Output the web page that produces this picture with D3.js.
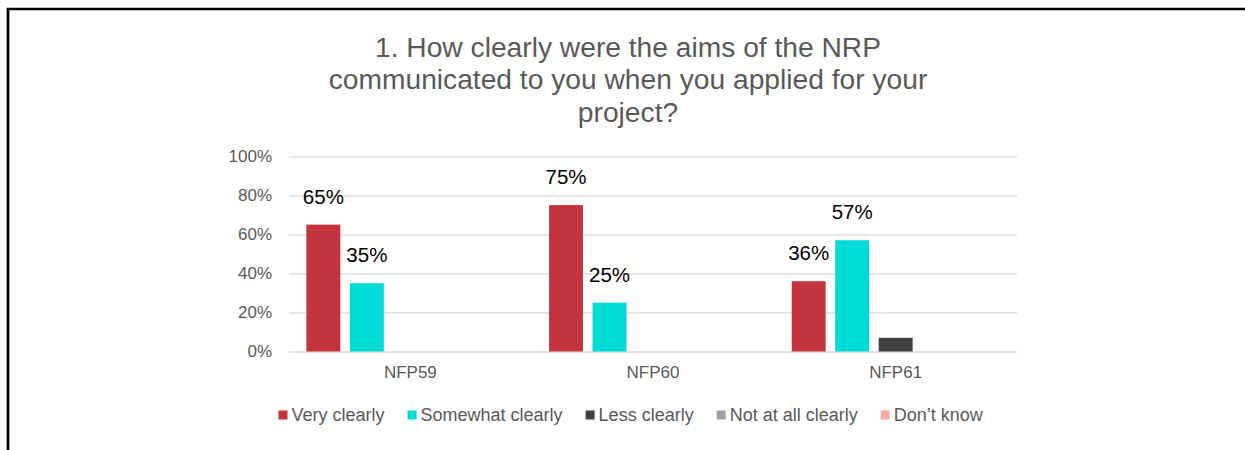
<!DOCTYPE html>
<html>
<head>
<meta charset="utf-8">
<script src="https://cdn.jsdelivr.net/npm/d3@7"></script>
<style>
  html, body { margin: 0; padding: 0; background: #fff; }
  svg { display: block; font-family: "Liberation Sans", Arial, sans-serif; }
</style>
</head>
<body>
<svg id="chart" width="1245" height="450"></svg>
<script>
// Survey results by programme (percent of respondents)
const categories = ["NFP59", "NFP60", "NFP61"];
const seriesNames = ["Very clearly", "Somewhat clearly", "Less clearly", "Not at all clearly", "Don\u2019t know"];
const veryClearly = [65, 75, 36];
const somewhatClearly = [35, 25, 57];
const lessClearly = [0, 0, 7];
const notAtAllClearly = [0, 0, 0];
const dontKnow = [0, 0, 0];
const yTicks = [0, 20, 40, 60, 80, 100];
const titleLines = ["1. How clearly were the aims of the NRP", "communicated to you when you applied for your", "project?"];
const seriesColors = ["#C3343F", "#00DCD5", "#404040", "#A0A0A0", "#FBAAAA"];
const labelledSeries = ["Very clearly", "Somewhat clearly"];

const seriesValues = [veryClearly, somewhatClearly, lessClearly, notAtAllClearly, dontKnow];

const svg = d3.select("#chart");

// Frame lines along the top and left edges
svg.append("path")
  .attr("d", "M8,450V9H1245")
  .attr("fill", "none")
  .attr("stroke", "#000")
  .attr("stroke-width", 2.7);

// Title
svg.append("text")
  .attr("text-anchor", "middle")
  .attr("fill", "#595959")
  .attr("font-size", 28.2)
  .selectAll("tspan")
  .data(titleLines)
  .join("tspan")
  .attr("x", 628)
  .attr("y", (d, i) => 56.5 + i * 32.7)
  .text(d => d);

// Scales
const x0 = d3.scaleBand().domain(categories).range([289, 1017]).padding(0);
const x1 = d3.scaleBand().domain(seriesNames).range([0, x0.bandwidth()])
  .paddingInner(0.22).paddingOuter(0.4);
const y = d3.scaleLinear().domain([0, 100]).range([351.5, 156.3]);
const color = d3.scaleOrdinal().domain(seriesNames).range(seriesColors);

// Gridlines + y axis labels
const yAxis = d3.axisLeft(y)
  .tickValues(yTicks)
  .tickFormat(d => d + "%")
  .tickSize(-(1017 - 289))
  .tickPadding(17);
const gy = svg.append("g").attr("transform", "translate(289,0)").call(yAxis);
gy.select(".domain").remove();
gy.selectAll(".tick line").attr("stroke", "#D9D9D9").attr("stroke-width", 1.3);
gy.selectAll(".tick text")
  .attr("fill", "#595959")
  .attr("font-size", 17)
  .attr("font-family", "Liberation Sans, Arial, sans-serif");

// Category axis labels
const xAxis = d3.axisBottom(x0).tickSize(0).tickPadding(14);
const gx = svg.append("g").attr("transform", "translate(0,351.5)").call(xAxis);
gx.select(".domain").remove();
gx.selectAll(".tick text")
  .attr("fill", "#595959")
  .attr("font-size", 17)
  .attr("font-family", "Liberation Sans, Arial, sans-serif");

// Grouped bars
const rows = categories.map((c, ci) => ({
  category: c,
  values: seriesNames.map((s, si) => ({ series: s, value: seriesValues[si][ci] }))
}));

const groups = svg.append("g").selectAll("g")
  .data(rows)
  .join("g")
  .attr("transform", d => `translate(${x0(d.category)},0)`);

groups.selectAll("rect")
  .data(d => d.values.filter(v => v.value > 0))
  .join("rect")
  .attr("x", d => x1(d.series))
  .attr("y", d => y(d.value))
  .attr("width", x1.bandwidth())
  .attr("height", d => y(0) - y(d.value))
  .attr("fill", d => color(d.series));

// Value labels
groups.selectAll("text.value")
  .data(d => d.values.filter(v => v.value > 0 && labelledSeries.includes(v.series)))
  .join("text")
  .attr("class", "value")
  .attr("x", d => x1(d.series) + x1.bandwidth() / 2)
  .attr("y", d => y(d.value) - 21)
  .attr("text-anchor", "middle")
  .attr("fill", "#000")
  .attr("font-size", 20.5)
  .text(d => d.value + "%");

// Legend
const legend = svg.append("g");
let lx = 278.5;
seriesNames.forEach((s, i) => {
  const item = legend.append("g");
  item.append("rect")
    .attr("x", lx).attr("y", 410.5)
    .attr("width", 9).attr("height", 9)
    .attr("fill", color(s));
  const t = item.append("text")
    .attr("x", lx + 13)
    .attr("y", 421)
    .attr("fill", "#595959")
    .attr("font-size", 18)
    .text(s);
  lx += 13 + t.node().getComputedTextLength() + 23;
});
</script>
</body>
</html>
